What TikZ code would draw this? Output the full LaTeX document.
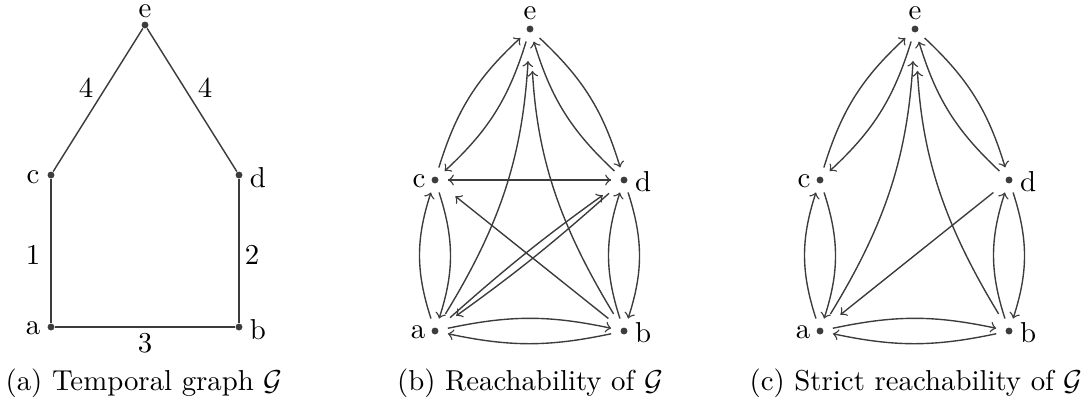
\documentclass[tikz,border=0pt]{standalone}
\definecolor{edgecol}{RGB}{60,60,60}
\begin{document}
\begin{tikzpicture}[x=0.347pt,y=0.347pt,
  dotnode/.style={circle, fill=edgecol, inner sep=0pt, minimum size=2.4pt},
  rnode/.style={circle, inner sep=0pt, minimum size=8.7pt,
    path picture={\fill[edgecol] (path picture bounding box.center) circle (1.2pt);}},
  tlabel/.style={inner sep=0pt},
  plain/.style={draw=edgecol, line width=0.5pt},
  arr/.style={->, draw=edgecol, line width=0.48pt},
  far/.style={shorten >=4.5pt, shorten <=2.4pt}
]
\useasboundingbox (0,0) rectangle (1091,408);

% ---------------- (a) temporal graph ----------------
\node[dotnode] (ae) at (145,{408-25}) {};
\node[dotnode] (ac) at (51,{408-175}) {};
\node[dotnode] (ad) at (239,{408-175}) {};
\node[dotnode] (aa) at (51,{408-327}) {};
\node[dotnode] (ab) at (239,{408-327}) {};
\node[tlabel] (ael) at (145,{408-11}) {e};
\node[tlabel] (acl) at (33,{408-177}) {c};
\node[tlabel] (adl) at (258,{408-178}) {d};
\node[tlabel] (aal) at (33,{408-328}) {a};
\node[tlabel] (abl) at (258,{408-330}) {b};
\draw[plain] (ac) -- (ae);
\draw[plain] (ae) -- (ad);
\draw[plain] (ac) -- (aa);
\draw[plain] (ad) -- (ab);
\draw[plain] (aa) -- (ab);
\node[tlabel] (w1) at (86,{408-88}) {4};
\node[tlabel] (w2) at (205,{408-88}) {4};
\node[tlabel] (w3) at (33,{408-255}) {1};
\node[tlabel] (w4) at (252,{408-255}) {2};
\node[tlabel] (w5) at (145,{408-343}) {3};
\node[tlabel] (capa) at (144,{408-383}) {(a) Temporal graph $\mathcal{G}$};

% ---------------- (b) reachability ----------------
\node[rnode] (be) at (530,{408-29}) {};
\node[rnode] (bc) at (435,{408-180}) {};
\node[rnode] (bd) at (624,{408-180}) {};
\node[rnode] (ba) at (435,{408-331}) {};
\node[rnode] (bb) at (624,{408-331}) {};
\node[tlabel] (bel) at (530,{408-13}) {e};
\node[tlabel] (bcl) at (419,{408-181}) {c};
\node[tlabel] (bdl) at (643,{408-182}) {d};
\node[tlabel] (bal) at (418,{408-332}) {a};
\node[tlabel] (bbl) at (643,{408-333}) {b};
\draw[arr] (bc) to[bend left=15] (be);
\draw[arr] (be) to[bend left=15] (bc);
\draw[arr] (be) to[bend left=15] (bd);
\draw[arr] (bd) to[bend left=15] (be);
\draw[arr, shorten >=6.6pt, shorten <=2.4pt] (ba) to[bend right=14] (be);
\draw[arr, shorten >=10pt, shorten <=2.4pt] (bb) to[bend left=14] (be);
\draw[arr] (bc) -- (bd);
\draw[arr] (bd) -- (bc);
\draw[arr] (ba) to[bend left=18] (bc);
\draw[arr] (bc) to[bend left=18] (ba);
\draw[arr] (bb) to[bend left=18] (bd);
\draw[arr] (bd) to[bend left=18] (bb);
\draw[arr] (ba) to[bend left=12] (bb);
\draw[arr] (bb) to[bend left=12] (ba);
\draw[arr, far] (ba) to[bend left=3] (bd);
\draw[arr, far] (bd) to[bend left=3] (ba);
\draw[arr, far] (bb) -- (bc);
\node[tlabel] (capb) at (530,{408-383}) {(b) Reachability of $\mathcal{G}$};

% ---------------- (c) strict reachability ----------------
\node[rnode] (ce) at (915,{408-29}) {};
\node[rnode] (cc) at (820,{408-180}) {};
\node[rnode] (cd) at (1009,{408-180}) {};
\node[rnode] (ca) at (820,{408-331}) {};
\node[rnode] (cb) at (1009,{408-331}) {};
\node[tlabel] (cel) at (915,{408-13}) {e};
\node[tlabel] (ccl) at (804,{408-181}) {c};
\node[tlabel] (cdl) at (1028,{408-182}) {d};
\node[tlabel] (cal) at (803,{408-332}) {a};
\node[tlabel] (cbl) at (1028,{408-333}) {b};
\draw[arr] (cc) to[bend left=15] (ce);
\draw[arr] (ce) to[bend left=15] (cc);
\draw[arr] (ce) to[bend left=15] (cd);
\draw[arr] (cd) to[bend left=15] (ce);
\draw[arr, shorten >=6.6pt, shorten <=2.4pt] (ca) to[bend right=14] (ce);
\draw[arr, shorten >=10pt, shorten <=2.4pt] (cb) to[bend left=14] (ce);
\draw[arr] (ca) to[bend left=18] (cc);
\draw[arr] (cc) to[bend left=18] (ca);
\draw[arr] (cb) to[bend left=18] (cd);
\draw[arr] (cd) to[bend left=18] (cb);
\draw[arr] (ca) to[bend left=12] (cb);
\draw[arr] (cb) to[bend left=12] (ca);
\draw[arr, far] (cd) -- (ca);
\node[tlabel] (capc) at (916,{408-383}) {(c) Strict reachability of $\mathcal{G}$};
\end{tikzpicture}
\end{document}
